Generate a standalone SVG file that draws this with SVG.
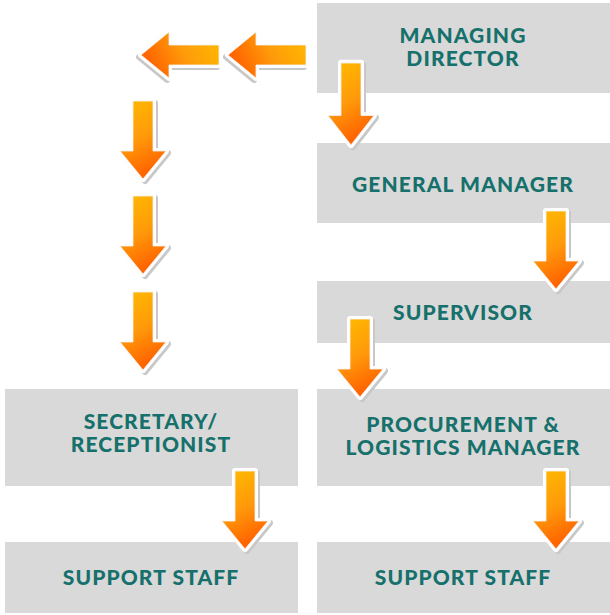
<svg xmlns="http://www.w3.org/2000/svg" width="610" height="615" viewBox="0 0 610 615">
<style>
.box{fill:#d9d9d9}
.t{font-family:Lato,"Open Sans",sans-serif;font-weight:900;font-size:21px;letter-spacing:1.1px;fill:#16706b;text-anchor:middle}
</style>
<defs>
<linearGradient id="og" x1="0" y1="0" x2="0.3" y2="1">
<stop offset="0" stop-color="#ffbb00"/>
<stop offset="0.55" stop-color="#ff9a0a"/>
<stop offset="1" stop-color="#ff6400"/>
</linearGradient>
<path id="ap" d="M-10,-80 L10,-80 L10,-30 L23,-30 L0,-2 L-23,-30 L-10,-30 Z"/>
<g id="arr">
<use href="#ap" transform="translate(2,2)" fill="#c8c8c8" stroke="#c8c8c8" stroke-width="6" stroke-linejoin="round"/>
<use href="#ap" fill="#ffffff" stroke="#ffffff" stroke-width="6" stroke-linejoin="round"/>
<use href="#ap" fill="url(#og)" stroke="#f2f2f2" stroke-width="0.8" stroke-linejoin="round"/>
</g>
</defs>
<rect width="610" height="615" fill="#ffffff"/>
<g id="managing-director"><rect class="box" x="317" y="3" width="293" height="90"/><text class="t" x="463" y="43">MANAGING</text><text class="t" x="463" y="66">DIRECTOR</text></g>
<g id="general-manager"><rect class="box" x="317" y="143" width="293" height="80"/><text class="t" x="463" y="192">GENERAL MANAGER</text></g>
<g id="supervisor"><rect class="box" x="317" y="281" width="293" height="62"/><text class="t" x="463" y="320">SUPERVISOR</text></g>
<g id="procurement"><rect class="box" x="317" y="389" width="293" height="97"/><text class="t" x="463" y="432">PROCUREMENT &amp;</text><text class="t" x="463" y="455">LOGISTICS MANAGER</text></g>
<g id="support-right"><rect class="box" x="317" y="542" width="293" height="71"/><text class="t" x="463" y="585">SUPPORT STAFF</text></g>
<g id="secretary"><rect class="box" x="5" y="389" width="293" height="97"/><text class="t" x="151" y="429">SECRETARY/</text><text class="t" x="151" y="452">RECEPTIONIST</text></g>
<g id="support-left"><rect class="box" x="5" y="542" width="293" height="71"/><text class="t" x="151" y="585">SUPPORT STAFF</text></g>
<g id="connectors">
<use href="#arr" transform="translate(351,147) scale(1,1.05)"/>
<use href="#arr" transform="translate(226,55) rotate(90)"/>
<use href="#arr" transform="translate(139,55) rotate(90)"/>
<use href="#arr" transform="translate(143,181)"/>
<use href="#arr" transform="translate(143,276)"/>
<use href="#arr" transform="translate(143,372)"/>
<use href="#arr" transform="translate(556,291)"/>
<use href="#arr" transform="translate(360,399)"/>
<use href="#arr" transform="translate(245,551)"/>
<use href="#arr" transform="translate(556,551)"/>
</g>
</svg>
